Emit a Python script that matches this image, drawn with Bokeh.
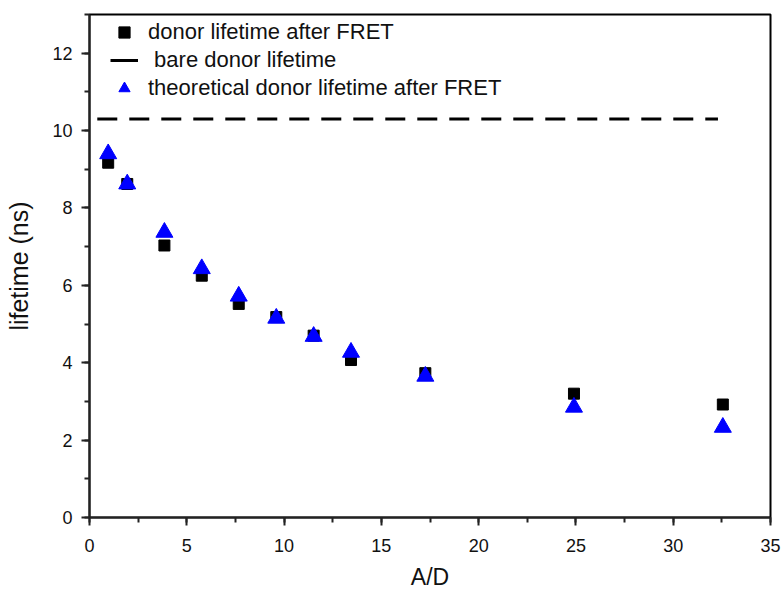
from bokeh.plotting import figure
from bokeh.models import Range1d, SingleIntervalTicker, Legend, LegendItem, ColumnDataSource
from bokeh.embed import file_html
from bokeh.resources import INLINE

# Data
ad_ratio = [0.96, 1.94, 3.85, 5.77, 7.67, 9.60, 11.52, 13.44, 17.26, 24.90, 32.55]
measured_lifetime = [9.17, 8.62, 7.03, 6.25, 5.52, 5.18, 4.70, 4.07, 3.73, 3.20, 2.92]
theoretical_lifetime = [9.40, 8.62, 7.37, 6.43, 5.72, 5.15, 4.68, 4.27, 3.65, 2.85, 2.33]
bare_x = [0.4, 32.3]
bare_lifetime = [10.3, 10.3]

labels = ["donor lifetime after FRET", " bare donor lifetime", "theoretical donor lifetime after FRET"]

FONT = "Liberation Sans"

p = figure(width=782, height=592, output_backend="svg", toolbar_location=None,
           x_range=Range1d(0, 35), y_range=Range1d(0, 13),
           min_border_left=89, min_border_right=12, min_border_top=14, min_border_bottom=75)

p.xgrid.visible = False
p.ygrid.visible = False
p.outline_line_color = "black"
p.outline_line_width = 2
p.outline_line_alpha = 1

p.xaxis.ticker = SingleIntervalTicker(interval=5, num_minor_ticks=2)
p.yaxis.ticker = SingleIntervalTicker(interval=2, num_minor_ticks=2)
p.xaxis.axis_label = "A/D"
p.yaxis.axis_label = "lifetime (ns)"
for ax in (p.xaxis, p.yaxis):
    ax.axis_line_width = 2
    ax.axis_line_color = "#222222"
    ax.major_tick_out = 8
    ax.major_tick_in = 0
    ax.minor_tick_out = 5
    ax.minor_tick_in = 0
    ax.major_tick_line_width = 2
    ax.minor_tick_line_width = 2
    ax.major_tick_line_color = "#222222"
    ax.minor_tick_line_color = "#222222"
    ax.major_label_text_font = FONT
    ax.major_label_text_font_size = "18px"
    ax.major_label_text_color = "#111111"
    ax.axis_label_text_font = FONT
    ax.axis_label_text_font_style = "normal"
    ax.axis_label_text_color = "#111111"
p.xaxis.axis_label_text_font_size = "23px"
p.yaxis.axis_label_text_font_size = "25px"
p.xaxis.major_label_standoff = 13
p.xaxis.axis_label_standoff = 9
p.yaxis.major_label_standoff = 9
p.yaxis.axis_label_standoff = 16

src_m = ColumnDataSource(dict(x=ad_ratio, y=measured_lifetime))
src_t = ColumnDataSource(dict(x=ad_ratio, y=theoretical_lifetime))

r_bare = p.line(bare_x, bare_lifetime, line_color="black", line_width=3, line_dash="20 12")
# legend proxy: a solid line sample with no visible data
r_bare_legend = p.line([float("nan")], [float("nan")], line_color="black", line_width=3)
r_sq = p.scatter("x", "y", source=src_m, marker="square", size=11, fill_color="black", line_color="black")
r_tri = p.scatter("x", "y", source=src_t, marker="triangle", size=17, fill_color="#0000FF", line_color="#0000FF")

legend = Legend(items=[
    LegendItem(label=labels[0], renderers=[r_sq]),
    LegendItem(label=labels[1], renderers=[r_bare_legend]),
    LegendItem(label=labels[2], renderers=[r_tri]),
], location=(21, 415))
legend.background_fill_alpha = 0
legend.border_line_alpha = 0
legend.padding = 0
legend.margin = 0
legend.glyph_width = 28
legend.glyph_height = 28
legend.label_height = 24
legend.spacing = -1
legend.label_standoff = 10
legend.label_text_font = FONT
legend.label_text_font_size = "22px"
legend.label_text_color = "#111111"
p.add_layout(legend, "center")

open("out.html", "w").write(file_html(p, INLINE))
